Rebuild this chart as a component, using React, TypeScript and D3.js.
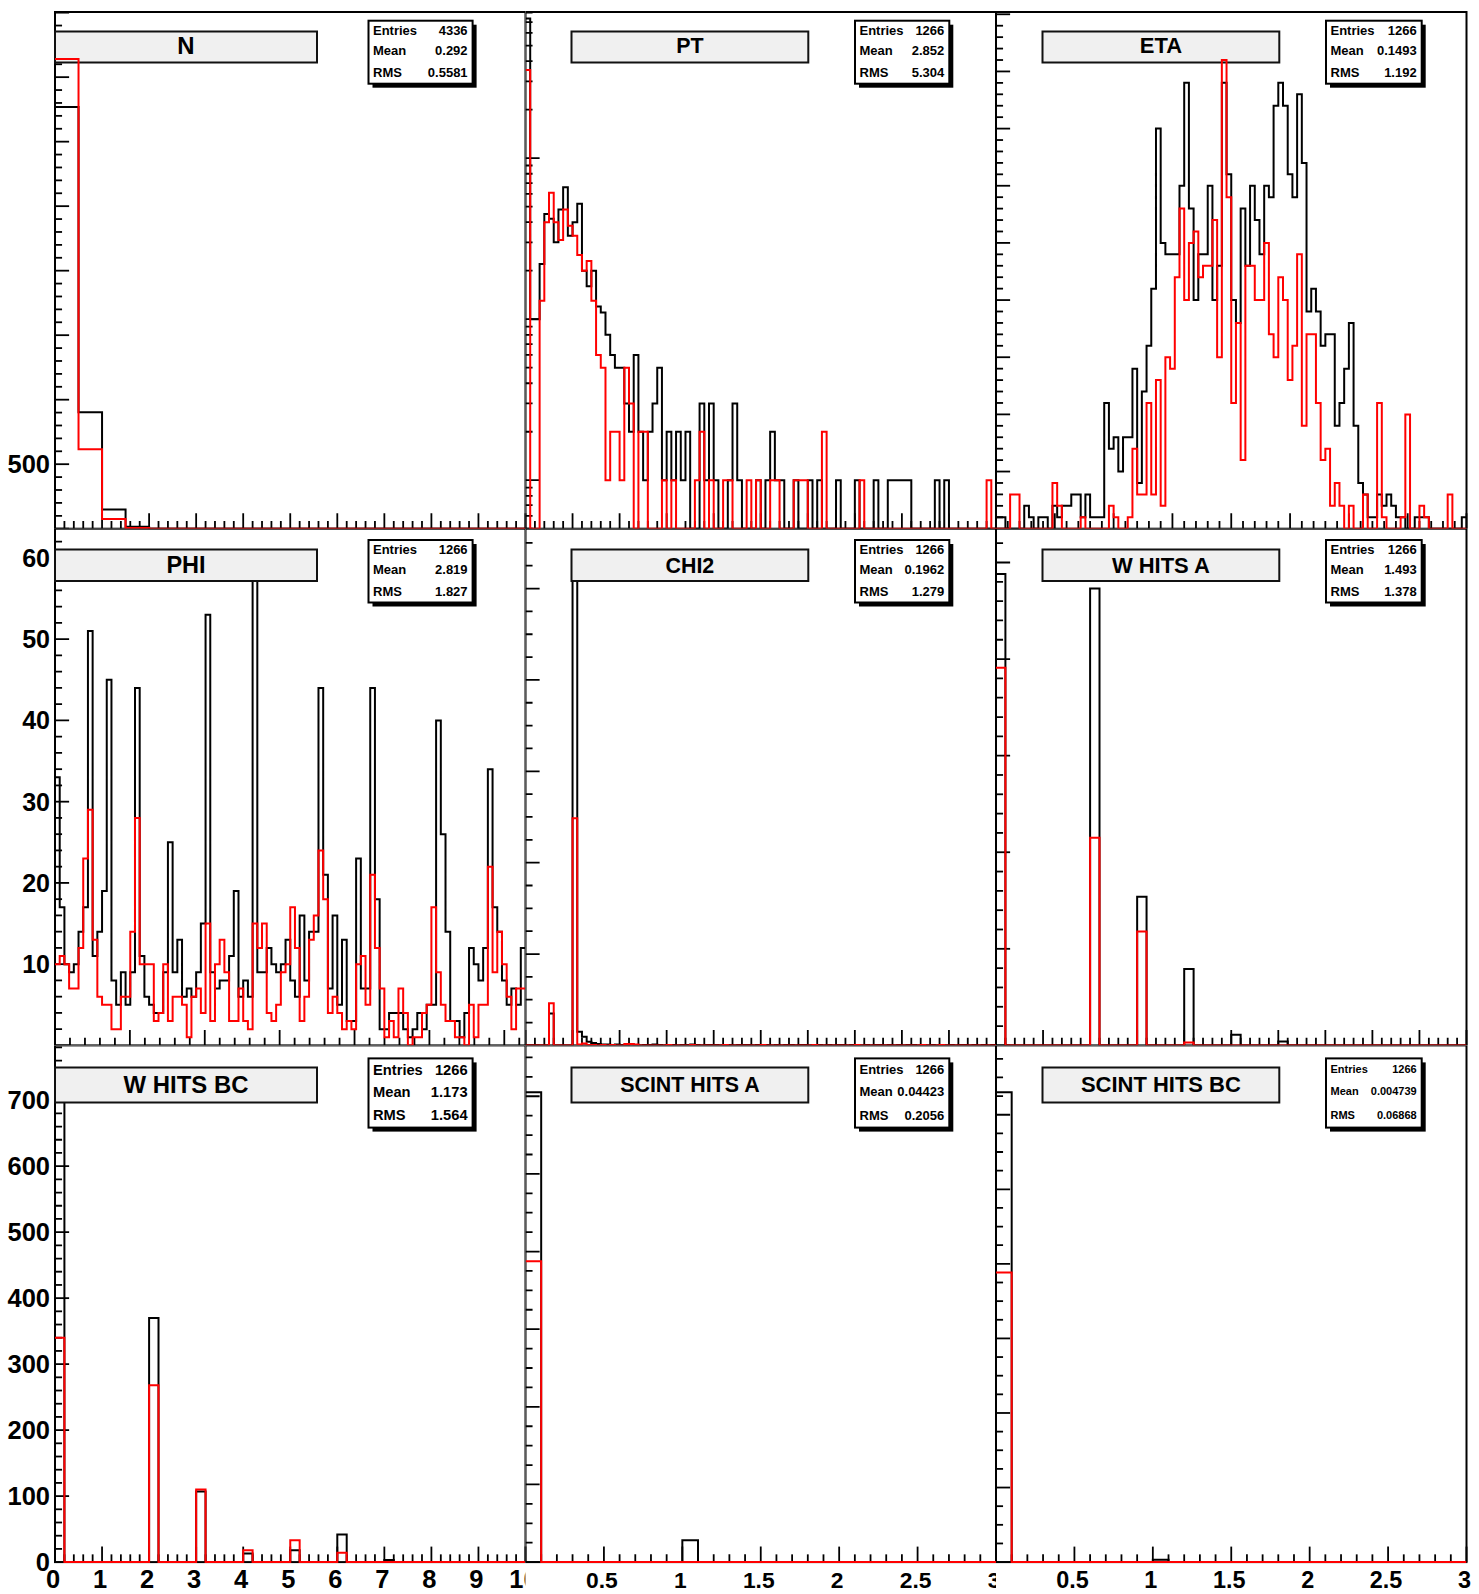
import React from 'react';
import * as d3 from 'd3';

// ---------------- data ----------------
const titles = ['N', 'PT', 'ETA', 'PHI', 'CHI2', 'W HITS A', 'W HITS BC', 'SCINT HITS A', 'SCINT HITS BC'];
const statsEntries = ['4336', '1266', '1266', '1266', '1266', '1266', '1266', '1266', '1266'];
const statsMean = ['0.292', '2.852', '0.1493', '2.819', '0.1962', '1.493', '1.173', '0.04423', '0.004739'];
const statsRMS = ['0.5581', '5.304', '1.192', '1.827', '1.279', '1.378', '1.564', '0.2056', '0.06868'];

const nBlack = [3268, 903, 148, 15, 0, 0, 0, 0, 0, 0, 0, 0, 0, 0, 0, 0, 0, 0, 0, 0];
const nRed = [3641, 615, 76, 5, 0, 0, 0, 0, 0, 0, 0, 0, 0, 0, 0, 0, 0, 0, 0, 0];

const ptBlack = [
  735, 10, 10, 22, 45, 42, 30, 48, 66, 33,
  40, 52, 20, 16, 20, 12, 11, 8, 6, 5,
  5, 3, 2, 6, 2, 1, 2, 3, 5, 1,
  2, 1, 2, 1, 2, 0, 0, 3, 1, 3,
  1, 0, 0, 1, 3, 1, 0, 0, 0, 1,
  0, 1, 2, 1, 1, 0, 0, 1, 0, 0,
  1, 0, 1, 0, 0, 0, 1, 0, 0, 0,
  1, 0, 0, 0, 1, 0, 0, 1, 1, 1,
  1, 1, 0, 0, 0, 0, 0, 1, 0, 1,
  0, 0, 0, 0, 0, 0, 0, 0, 0, 0,
];
const ptRed = [
  353, 0, 0, 13, 40, 61, 40, 31, 48, 38,
  33, 25, 20, 23, 13, 6, 5, 1, 2, 2,
  1, 5, 3, 0, 2, 2, 0, 0, 0, 1,
  0, 1, 0, 0, 0, 0, 1, 2, 0, 1,
  0, 0, 1, 1, 0, 0, 0, 1, 0, 1,
  0, 0, 1, 1, 0, 0, 0, 1, 1, 1,
  0, 0, 0, 2, 0, 0, 0, 0, 0, 0,
  0, 1, 0, 0, 0, 0, 0, 0, 0, 0,
  0, 0, 0, 0, 0, 0, 0, 0, 0, 0,
  0, 0, 0, 0, 0, 0, 0, 0, 1, 0,
];

const etaBlack = [
  1, 1, 0, 0, 0, 0, 2, 1, 0, 1,
  1, 0, 2, 1, 2, 2, 3, 3, 1, 3,
  1, 1, 1, 11, 7, 8, 5, 8, 8, 14,
  4, 12, 16, 21, 35, 25, 24, 24, 24, 30,
  39, 28, 20, 24, 24, 30, 20, 23, 39, 31,
  20, 18, 28, 23, 30, 27, 24, 30, 29, 37,
  39, 37, 31, 29, 38, 32, 19, 21, 19, 16,
  17, 17, 9, 11, 14, 18, 9, 4, 3, 1,
  1, 3, 2, 3, 2, 1, 1, 0, 0, 1,
  1, 1, 0, 0, 0, 0, 0, 0, 0, 1,
];
const etaRed = [
  0, 0, 0, 3, 3, 0, 0, 0, 0, 0,
  0, 0, 4, 2, 0, 0, 0, 0, 1, 0,
  0, 0, 0, 0, 2, 1, 0, 0, 1, 7,
  3, 3, 11, 3, 13, 2, 15, 14, 22, 28,
  20, 25, 26, 22, 23, 23, 27, 15, 41, 29,
  11, 18, 6, 23, 23, 20, 20, 25, 17, 15,
  22, 20, 13, 16, 24, 9, 17, 17, 11, 6,
  7, 2, 4, 2, 0, 2, 0, 0, 3, 0,
  0, 11, 1, 0, 0, 0, 1, 10, 0, 0,
  2, 1, 0, 0, 0, 0, 3, 0, 0, 0,
];

const phiBlack = [
  33, 17, 10, 9, 10, 14, 17, 51, 11, 14,
  19, 45, 8, 5, 9, 5, 9, 44, 11, 6,
  5, 4, 4, 9, 25, 9, 13, 6, 7, 6,
  9, 15, 53, 9, 7, 8, 8, 11, 19, 6,
  8, 6, 58, 9, 9, 12, 10, 9, 10, 13,
  8, 6, 16, 8, 14, 14, 44, 21, 7, 16,
  5, 13, 3, 3, 23, 7, 7, 44, 18, 2,
  2, 4, 4, 4, 2, 1, 2, 4, 2, 5,
  5, 40, 26, 14, 3, 3, 1, 4, 12, 10,
  8, 12, 34, 17, 14, 8, 5, 7, 5, 12,
];
const phiRed = [
  10, 11, 10, 7, 7, 12, 23, 29, 13, 6,
  5, 5, 2, 2, 6, 6, 14, 28, 10, 10,
  10, 3, 4, 10, 3, 6, 6, 5, 1, 6,
  7, 4, 15, 3, 10, 13, 9, 3, 3, 7,
  3, 2, 15, 12, 15, 4, 3, 5, 9, 10,
  17, 12, 3, 6, 13, 16, 24, 18, 4, 6,
  4, 2, 3, 2, 10, 11, 5, 21, 12, 7,
  1, 3, 1, 7, 4, 0, 1, 1, 4, 5,
  17, 9, 5, 3, 3, 1, 1, 0, 5, 1,
  5, 5, 22, 9, 14, 10, 6, 2, 7, 7,
];

const chiBlack = [
  0, 0, 0, 0, 0, 70, 0, 0, 0, 0,
  1028, 30, 19, 8, 5, 3, 2, 2, 1, 2,
  1, 1, 2, 1, 0, 1, 1, 2, 1, 0,
  1, 1, 0, 1, 1, 2, 1, 0, 1, 1,
  1, 0, 1, 1, 0, 1, 1, 1, 0, 1,
  1, 1, 0, 1, 0, 1, 1, 0, 1, 1,
  0, 1, 1, 0, 1, 0, 1, 1, 0, 1,
  1, 0, 1, 0, 1, 1, 0, 1, 0, 1,
  0, 1, 1, 0, 1, 0, 1, 0, 1, 0,
  1, 0, 1, 1, 0, 1, 0, 1, 0, 1,
];
const chiRed = [
  0, 0, 0, 0, 0, 92, 0, 0, 0, 0,
  497, 2, 4, 1, 1, 0, 1, 0, 1, 0,
  0, 3, 3, 2, 0, 0, 0, 0, 0, 0,
  1, 0, 0, 0, 0, 1, 0, 0, 0, 0,
  0, 0, 1, 0, 0, 0, 0, 0, 0, 0,
  1, 0, 0, 0, 0, 0, 0, 0, 0, 0,
  0, 1, 0, 0, 0, 0, 0, 0, 0, 0,
  1, 0, 0, 0, 0, 0, 0, 0, 0, 0,
  0, 0, 0, 0, 1, 0, 0, 0, 1, 0,
  0, 0, 0, 0, 0, 0, 0, 0, 0, 0,
];

const wABlack = [
  488, 0, 0, 0, 0, 0, 0, 0, 0, 0,
  473, 0, 0, 0, 0, 154, 0, 0, 0, 0,
  79, 0, 0, 0, 0, 11, 0, 0, 0, 0,
  4, 0, 0, 0, 0, 0, 0, 0, 0, 0,
  0, 0, 0, 0, 0, 0, 0, 0, 0, 0,
];
const wARed = [
  391, 0, 0, 0, 0, 0, 0, 0, 0, 0,
  215, 0, 0, 0, 0, 118, 0, 0, 0, 0,
  3, 0, 0, 0, 0, 0, 0, 0, 0, 0,
  0, 0, 0, 0, 0, 0, 0, 0, 0, 0,
  0, 0, 0, 0, 0, 0, 0, 0, 0, 0,
];
const wBCBlack = [
  712, 0, 0, 0, 0, 0, 0, 0, 0, 0,
  370, 0, 0, 0, 0, 107, 0, 0, 0, 0,
  13, 0, 0, 0, 0, 18, 0, 0, 0, 0,
  42, 0, 0, 0, 0, 3, 0, 0, 0, 0,
  0, 0, 0, 0, 0, 0, 0, 0, 0, 0,
];
const wBCRed = [
  340, 0, 0, 0, 0, 0, 0, 0, 0, 0,
  268, 0, 0, 0, 0, 110, 0, 0, 0, 0,
  18, 0, 0, 0, 0, 33, 0, 0, 0, 0,
  14, 0, 0, 0, 0, 0, 0, 0, 0, 0,
  0, 0, 0, 0, 0, 0, 0, 0, 0, 0,
];
const sABlack = [
  1210, 0, 0, 0, 0, 0, 0, 0, 0, 0,
  56, 0, 0, 0, 0, 0, 0, 0, 0, 0,
  0, 0, 0, 0, 0, 0, 0, 0, 0, 0,
];
const sARed = [
  775, 0, 0, 0, 0, 0, 0, 0, 0, 0,
  0, 0, 0, 0, 0, 0, 0, 0, 0, 0,
  0, 0, 0, 0, 0, 0, 0, 0, 0, 0,
];
const sBCBlack = [
  1260, 0, 0, 0, 0, 0, 0, 0, 0, 0,
  6, 0, 0, 0, 0, 0, 0, 0, 0, 0,
  0, 0, 0, 0, 0, 0, 0, 0, 0, 0,
];
const sBCRed = [
  777, 0, 0, 0, 0, 0, 0, 0, 0, 0,
  0, 0, 0, 0, 0, 0, 0, 0, 0, 0,
  0, 0, 0, 0, 0, 0, 0, 0, 0, 0,
];

// tick labels
const yLabelsN = [500];
const yLabelsPhi = [10, 20, 30, 40, 50, 60];
const yLabelsWBC = [0, 100, 200, 300, 400, 500, 600, 700];
const xLabelsLeft = [0, 1, 2, 3, 4, 5, 6, 7, 8, 9, 10];
const xLabelsMid = [0.5, 1, 1.5, 2, 2.5, 3];
const xLabelsRight = [0.5, 1, 1.5, 2, 2.5, 3];

// ---------------- layout ----------------
const W = 1479, H = 1594;
const PAD_X = [0, 525.5, 996, 1479];
const PAD_Y = [0, 528.7, 1045.4, 1594];
const FRAME_X = [55, 525.5, 996];
const FRAME_Y = [12, 528.7, 1045.4];
const FRAME_W = 470.5, FRAME_H = 516.7;
const TITLE_X = [[55, 317], [571.5, 808.3], [1042.5, 1279.3]];
const TITLE_Y = [[31.5, 62.5], [549.5, 581], [1067.5, 1102.5]];
const STATS_X = [[368.5, 472.6], [855, 949.3], [1326, 1421.7]];
const STATS_Y = [[20.7, 83.7], [540, 602.5], [1058.4, 1127.6]];
const STATS_FONT = [13, 13, 13, 13, 13, 13, 14.7, 13, 11];
const FONT = '"Liberation Sans", Arial, Helvetica, sans-serif';

type PanelCfg = {
  black: number[];
  red: number[];
  xDomain: [number, number];
  yDomain: [number, number];
  logY?: boolean;
  xMajor: number; xMinor: number;
  yMajor: number; yMinor: number;
  yLabels?: number[];
  xLabels?: number[];
};

const panels: PanelCfg[] = [
  { black: nBlack, red: nRed, xDomain: [0, 10], yDomain: [0, 4005], xMajor: 1, xMinor: 0.2, yMajor: 500, yMinor: 100, yLabels: yLabelsN },
  { black: ptBlack, red: ptRed, xDomain: [0, 50], yDomain: [0.5, 808], logY: true, xMajor: 5, xMinor: 1, yMajor: 0, yMinor: 0 },
  { black: etaBlack, red: etaRed, xDomain: [-4, 4], yDomain: [0, 45.2], xMajor: 1, xMinor: 0.2, yMajor: 5, yMinor: 1 },
  { black: phiBlack, red: phiRed, xDomain: [0, 2 * Math.PI], yDomain: [0, 63.6], xMajor: 1, xMinor: 0.2, yMajor: 10, yMinor: 2, yLabels: yLabelsPhi },
  { black: chiBlack, red: chiRed, xDomain: [-1, 9], yDomain: [0, 1131], xMajor: 1, xMinor: 0.2, yMajor: 200, yMinor: 50 },
  { black: wABlack, red: wARed, xDomain: [0, 10], yDomain: [0, 535], xMajor: 1, xMinor: 0.2, yMajor: 100, yMinor: 20 },
  { black: wBCBlack, red: wBCRed, xDomain: [0, 10], yDomain: [0, 783], xMajor: 1, xMinor: 0.2, yMajor: 100, yMinor: 20, yLabels: yLabelsWBC, xLabels: xLabelsLeft },
  { black: sABlack, red: sARed, xDomain: [0, 3], yDomain: [0, 1331], xMajor: 0.5, xMinor: 0.1, yMajor: 200, yMinor: 50, xLabels: xLabelsMid },
  { black: sBCBlack, red: sBCRed, xDomain: [0, 3], yDomain: [0, 1386], xMajor: 0.5, xMinor: 0.1, yMajor: 200, yMinor: 50, xLabels: xLabelsRight },
];

function linTicks(d0: number, d1: number, major: number, minor: number) {
  const out: { v: number; major: boolean }[] = [];
  const i0 = Math.ceil(d0 / minor - 1e-6), i1 = Math.floor(d1 / minor + 1e-6);
  for (let i = i0; i <= i1; i++) {
    const v = i * minor;
    const q = v / major;
    out.push({ v, major: Math.abs(q - Math.round(q)) < 1e-6 });
  }
  return out;
}

function logTicks(d0: number, d1: number) {
  const out: { v: number; major: boolean }[] = [];
  for (let e = -2; e <= 4; e++) {
    for (let k = 1; k <= 9; k++) {
      const v = k * Math.pow(10, e);
      if (v >= d0 * 0.999 && v <= d1 * 1.001) out.push({ v, major: k === 1 });
    }
  }
  return out;
}

function fmt(v: number) {
  return String(Math.round(v * 1000) / 1000);
}

function Panel({ idx }: { idx: number }) {
  const p = panels[idx];
  const r = Math.floor(idx / 3), c = idx % 3;
  const fx0 = FRAME_X[c], fy0 = FRAME_Y[r];
  const fx1 = fx0 + FRAME_W, fy1 = fy0 + FRAME_H;
  const padW = PAD_X[c + 1] - PAD_X[c], padH = PAD_Y[r + 1] - PAD_Y[r];
  const m = Math.min(padW, padH);
  const titleFont = 0.0455 * m;
  const labelFont = 0.0485 * m;

  const x = d3.scaleLinear().domain(p.xDomain).range([fx0, fx1]);
  const yLin = d3.scaleLinear().domain(p.yDomain).range([fy1, fy0]);
  const yLog = d3.scaleLog().domain(p.yDomain).range([fy1, fy0]);
  const yv = (v: number) => {
    if (p.logY) return v < p.yDomain[0] ? fy1 : yLog(v);
    return yLin(v);
  };

  const histPath = (vals: number[]) => {
    const n = vals.length;
    const [a, b] = p.xDomain;
    const bw = (b - a) / n;
    let d = `M${x(a)},${yv(vals[0])}`;
    for (let i = 0; i < n; i++) {
      if (i > 0) d += `V${yv(vals[i])}`;
      d += `H${x(a + (i + 1) * bw)}`;
    }
    return d;
  };

  const xt = linTicks(p.xDomain[0], p.xDomain[1], p.xMajor, p.xMinor);
  const yt = p.logY ? logTicks(p.yDomain[0], p.yDomain[1]) : linTicks(p.yDomain[0], p.yDomain[1], p.yMajor, p.yMinor);
  const xTickMaj = 0.03 * FRAME_H, yTickMaj = 0.03 * FRAME_W;

  const [tx0, tx1] = TITLE_X[c];
  const [ty0, ty1] = TITLE_Y[r];
  const [sx0, sx1] = STATS_X[c];
  const [sy0, sy1] = STATS_Y[r];
  const sh = sy1 - sy0;
  const sf = STATS_FONT[idx];
  const statRows: [string, string][] = [
    ['Entries', statsEntries[idx]],
    ['Mean', statsMean[idx]],
    ['RMS', statsRMS[idx]],
  ];
  const rowPos = [0.157, 0.475, 0.819];

  const padId = `pad${idx}`;
  const frmId = `frm${idx}`;
  return (
    <g>
      <defs>
        <clipPath id={padId}>
          <rect x={PAD_X[c]} y={PAD_Y[r]} width={padW} height={padH} />
        </clipPath>
        <clipPath id={frmId}>
          <rect x={fx0} y={fy0} width={FRAME_W} height={FRAME_H + 1.5} />
        </clipPath>
      </defs>
      <g clipPath={`url(#${padId})`}>
        <rect x={PAD_X[c]} y={PAD_Y[r]} width={padW} height={padH} fill="#fff" />
        <rect x={fx0} y={fy0} width={FRAME_W} height={FRAME_H} fill="#fff" stroke="#000" strokeWidth={2} />
        {xt.map((t, i) => (
          <line key={'x' + i} x1={x(t.v)} x2={x(t.v)} y1={fy1} y2={fy1 - (t.major ? xTickMaj : xTickMaj / 2)} stroke="#000" strokeWidth={1.8} />
        ))}
        {yt.map((t, i) => (
          <line key={'y' + i} x1={fx0} x2={fx0 + (t.major ? yTickMaj : yTickMaj / 2)} y1={yv(t.v)} y2={yv(t.v)} stroke="#000" strokeWidth={1.8} />
        ))}
        {(p.yLabels || []).map((v, i) => (
          <text key={'yl' + i} x={fx0 - 5} y={yv(v)} dy="0.36em" textAnchor="end" fontSize={labelFont} fontWeight="bold" fontFamily={FONT} fill="#000">{fmt(v)}</text>
        ))}
        {(p.xLabels || []).map((v, i) => (
          <text key={'xl' + i} x={x(v) - 2} y={fy1 + 25.5} textAnchor="middle" fontSize={labelFont} fontWeight="bold" fontFamily={FONT} fill="#000">{fmt(v)}</text>
        ))}
        <g clipPath={`url(#${frmId})`}>
          <path d={histPath(p.black)} fill="none" stroke="#000" strokeWidth={2} />
        </g>
        <rect x={tx0} y={ty0} width={tx1 - tx0} height={ty1 - ty0} fill="#f0f0f0" stroke="#111" strokeWidth={2} />
        <text x={(tx0 + tx1) / 2} y={(ty0 + ty1) / 2} dy={r === 0 ? '0.28em' : '0.34em'} textAnchor="middle" fontSize={titleFont} fontWeight="bold" fontFamily={FONT} fill="#000">{titles[idx]}</text>
        <rect x={sx0 + 4} y={sy0 + 4} width={sx1 - sx0} height={sh} fill="#000" />
        <rect x={sx0} y={sy0} width={sx1 - sx0} height={sh} fill="#fff" stroke="#000" strokeWidth={2} />
        {statRows.map(([k, v], i) => (
          <g key={'s' + i}>
            <text x={sx0 + 4.5} y={sy0 + sh * rowPos[i]} dy="0.36em" fontSize={sf} fontWeight="bold" fontFamily={FONT} fill="#000">{k}</text>
            <text x={sx1 - 5} y={sy0 + sh * rowPos[i]} dy="0.36em" textAnchor="end" fontSize={sf} fontWeight="bold" fontFamily={FONT} fill="#000">{v}</text>
          </g>
        ))}
        <g clipPath={`url(#${frmId})`}>
          <path d={histPath(p.red)} fill="none" stroke="#ff0000" strokeWidth={2} />
        </g>
      </g>
    </g>
  );
}

export default function App() {
  return (
    <div style={{ position: 'absolute', left: 0, top: 0, width: W, height: H, background: '#fff' }}>
      <svg width={W} height={H} viewBox={`0 0 ${W} ${H}`} style={{ display: 'block' }}>
        <rect x={0} y={0} width={W} height={H} fill="#fff" />
        {panels.map((_, i) => (
          <Panel key={i} idx={i} />
        ))}
      </svg>
    </div>
  );
}
